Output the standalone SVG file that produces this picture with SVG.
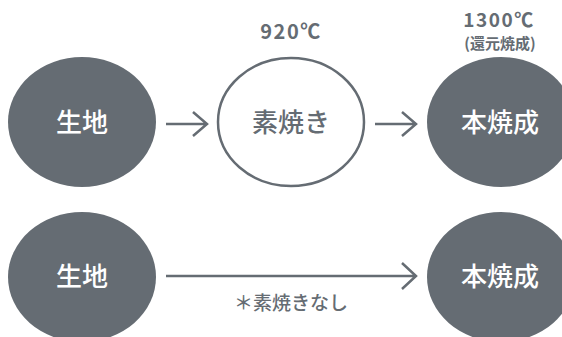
<svg xmlns="http://www.w3.org/2000/svg" width="562" height="337" viewBox="0 0 562 337">
<style>
.fill{fill:#656c73}
.outline{fill:#fff;stroke:#656c73;stroke-width:2.5}
.lbl{font-family:"Noto Sans CJK JP","Noto Sans",sans-serif;font-weight:500;text-anchor:middle}
.w{fill:#fff;font-size:26px}
.g{fill:#656c73}
.temp{font-size:20px;letter-spacing:1.5px;font-weight:600}
.conn{fill:none;stroke:#656c73;stroke-width:2.5;stroke-linecap:butt;stroke-linejoin:miter}
</style>
<rect width="562" height="337" fill="#fff"/>
<g id="node-kiji1"><ellipse class="fill" cx="82" cy="122" rx="74" ry="65"/><text class="lbl w" x="82" y="132">生地</text></g>
<g id="node-suyaki"><ellipse class="outline" cx="291" cy="122" rx="73" ry="64"/><text class="lbl g" style="font-size:26px" x="291" y="132">素焼き</text><text class="lbl g temp" x="291" y="39">920℃</text></g>
<g id="node-honyaki1"><ellipse class="fill" cx="501" cy="122" rx="74" ry="65"/><text class="lbl w" x="500" y="132">本焼成</text><text class="lbl g temp" style="font-size:19px" x="499" y="27">1300℃</text><text class="lbl g" style="font-size:15px;font-weight:600" x="500" y="49">(還元焼成)</text></g>
<g id="node-kiji2"><ellipse class="fill" cx="82" cy="277" rx="74" ry="65"/><text class="lbl w" x="82" y="286">生地</text></g>
<g id="node-honyaki2"><ellipse class="fill" cx="501" cy="277" rx="74" ry="65"/><text class="lbl w" x="500" y="286">本焼成</text></g>
<g id="connectors">
<path class="conn" d="M166 124H207M193 112L207 124L193 136"/>
<path class="conn" d="M375 124H416M402 112L416 124L402 136"/>
<path class="conn" d="M166 276H416M402 263L416 276L402 289"/>
<text class="lbl g" style="font-size:19px;font-weight:500" x="291" y="310">＊素焼きなし</text>
</g>
</svg>
